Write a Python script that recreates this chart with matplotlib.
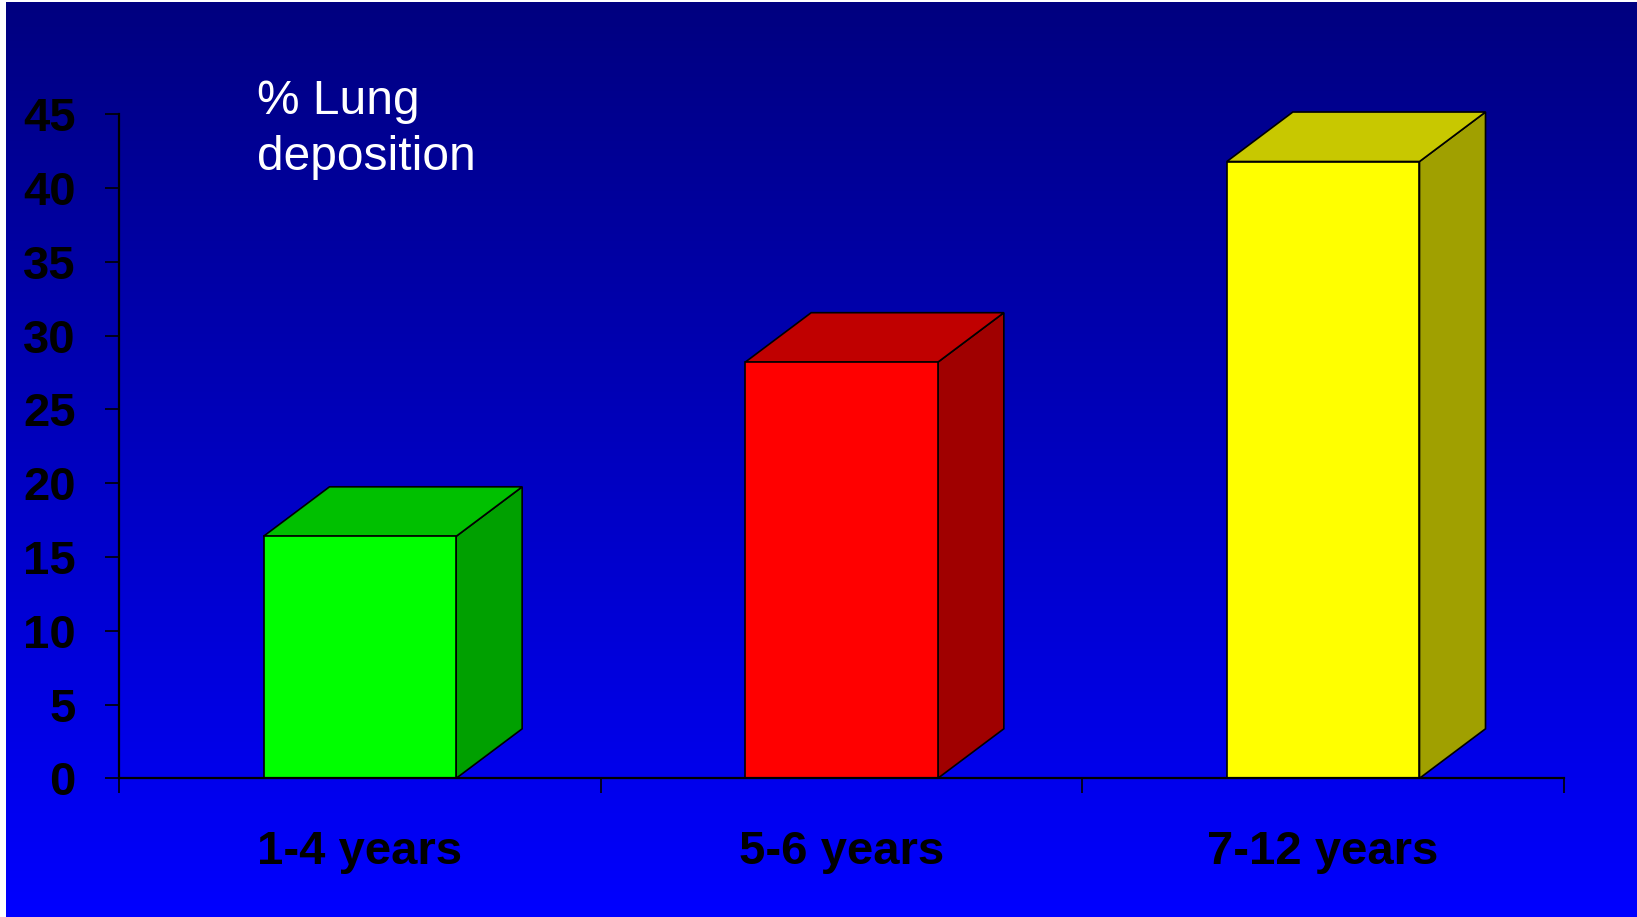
import numpy as np
import matplotlib
matplotlib.use("Agg")
import matplotlib.pyplot as plt
from matplotlib.patches import Polygon, Rectangle

# Data
categories = ["1-4 years", "5-6 years", "7-12 years"]
deposition = [16.4, 28.2, 41.8]
y_ticks = [0, 5, 10, 15, 20, 25, 30, 35, 40, 45]

front_colors = ["#00FF00", "#FF0000", "#FFFF00"]
top_colors = ["#00C000", "#C00000", "#C8C800"]
side_colors = ["#00A000", "#A00000", "#A0A000"]

W, H, DPI = 1637, 917, 100
plt.rcParams["font.family"] = ["Liberation Sans", "DejaVu Sans"]
fig = plt.figure(figsize=(W / DPI, H / DPI), dpi=DPI)
fig.patch.set_facecolor("white")

# Vertical navy-to-blue gradient backdrop
bg = fig.add_axes([6 / W, 0, 1 - 6 / W, 1 - 2 / H])
bg.set_axis_off()
grad = np.linspace(0, 1, 256).reshape(-1, 1)
top_rgb = np.array([0, 0, 128]) / 255
bot_rgb = np.array([0, 0, 255]) / 255
img = top_rgb[None, None, :] * (1 - grad[:, :, None]) + bot_rgb[None, None, :] * grad[:, :, None]
bg.imshow(img, aspect="auto", extent=[0, 1, 0, 1], origin="upper")
bg.set_xlim(0, 1)
bg.set_ylim(0, 1)

# Plot area
x0, x1 = 119, 1564
y0, y1 = 778.3, 114.3
ax = fig.add_axes([x0 / W, 1 - y0 / H, (x1 - x0) / W, (y0 - y1) / H])
ax.patch.set_alpha(0)
ax.set_xlim(0, len(categories))
ax.set_ylim(0, 45)

# Depth offset of the 3D blocks, converted from pixels to data units
dx = 66 / (x1 - x0) * len(categories)
dy = 49.5 / (y0 - y1) * 45
bar_w = 0.4

for i, (v, fc, tc, sc) in enumerate(zip(deposition, front_colors, top_colors, side_colors)):
    left = i + 0.5 - bar_w / 2
    right = left + bar_w
    side = Polygon([(right, 0), (right + dx, dy), (right + dx, v + dy), (right, v)],
                   closed=True, facecolor=sc, edgecolor="black", lw=1.2, clip_on=False, zorder=3)
    top = Polygon([(left, v), (left + dx, v + dy), (right + dx, v + dy), (right, v)],
                  closed=True, facecolor=tc, edgecolor="black", lw=1.2, clip_on=False, zorder=3)
    front = Rectangle((left, 0), bar_w, v, facecolor=fc, edgecolor="black", lw=1.2,
                      clip_on=False, zorder=4)
    ax.add_patch(side)
    ax.add_patch(top)
    ax.add_patch(front)

# Axes styling
for s in ["top", "right"]:
    ax.spines[s].set_visible(False)
ax.spines["left"].set_linewidth(1.6)
ax.spines["bottom"].set_linewidth(1.6)
ax.spines["bottom"].set_zorder(5)

ax.set_yticks(y_ticks)
ax.set_yticklabels([str(t) for t in y_ticks], fontsize=34, fontweight="bold", color="black")
ax.tick_params(axis="y", direction="out", length=10, width=1.2, pad=21, colors="black")

ax.set_xticks(range(len(categories) + 1))
ax.set_xticklabels([])
ax.tick_params(axis="x", which="major", direction="out", length=11, width=1.2, colors="black")
ax.set_xticks([i + 0.5 for i in range(len(categories))], minor=True)
ax.set_xticklabels(categories, minor=True, fontsize=34, fontweight="bold", color="black")
ax.tick_params(axis="x", which="minor", length=0, pad=37)

# Axis caption
fig.text(257 / W, 1 - 114 / H, "% Lung", color="white", fontsize=34.5,
         ha="left", va="baseline")
fig.text(257 / W, 1 - 170 / H, "deposition", color="white", fontsize=34.5,
         ha="left", va="baseline")

fig.savefig("out.png", dpi=DPI)
